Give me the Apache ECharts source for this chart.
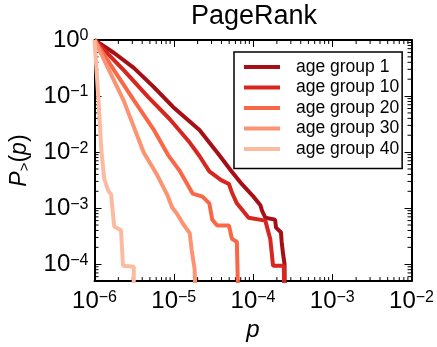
<!DOCTYPE html>
<html>
<head>
<meta charset="utf-8">
<script src="https://cdn.jsdelivr.net/npm/echarts@6/dist/echarts.min.js"></script>
<style>
  html, body { margin: 0; padding: 0; background: #fff; }
  #chart { width: 437px; height: 347px; }
</style>
</head>
<body>
<div id="chart"></div>
<script>
// CCDF values, [p, P>(p)]
const group1 = [[1e-6,1],[1.77e-6,0.586],[3.13e-6,0.318],[5.53e-6,0.147],[9.79e-6,0.064],[2.11e-5,0.0247],[3.74e-5,0.00885],[5.26e-5,0.0047],[7.2e-5,0.0027],[9.86e-5,0.00168],[1.24e-4,0.00113],[1.3e-4,9e-4],[1.43e-4,6.76e-4],[1.9e-4,6.25e-4],[1.95e-4,4.5e-4],[2.25e-4,3.73e-4],[2.3e-4,2.5e-4],[2.39e-4,1.56e-4],[2.5e-4,1e-4],[2.53e-4,1e-5]]
const group10 = [[1e-6,1],[2.35e-6,0.288],[4.8e-6,0.095],[8.99e-6,0.0382],[1.59e-5,0.0148],[2.11e-5,0.00851],[2.81e-5,0.00452],[3.96e-5,0.00316],[4.97e-5,0.0027],[5.42e-5,0.0019],[6.25e-5,0.00122],[8.8e-5,6.76e-4],[1.43e-4,6.0e-4],[1.65e-4,2.83e-4],[1.79e-4,9.35e-5],[2.45e-4,9.35e-5],[2.5e-4,1e-5]]
const group20 = [[1e-6,1],[1.77e-6,0.288],[3.13e-6,0.0844],[5.53e-6,0.0258],[8.49e-6,0.00885],[1.2e-5,0.00452],[1.73e-5,0.00182],[2.3e-5,0.00161],[2.81e-5,0.00122],[3.06e-5,6.25e-4],[3.53e-5,4.92e-4],[4.97e-5,4.92e-4],[5.42e-5,2.83e-4],[6.25e-5,2.51e-4],[6.61e-5,1e-5]]
const group30 = [[1e-6,1],[1.53e-6,0.288],[2.35e-6,0.0811],[4.16e-6,0.00996],[6.2e-6,0.00385],[8.25e-6,0.00175],[9.51e-6,0.00104],[1.1e-5,7.92e-4],[1.3e-5,5.33e-4],[1.59e-5,3.59e-4],[1.68e-5,1.83e-4],[1.83e-5,8.3e-5],[1.94e-5,1e-5]]
const group40 = [[1e-6,1],[1.12e-6,0.0913],[1.22e-6,0.0108],[1.33e-6,0.00329],[1.49e-6,0.00205],[1.62e-6,0.00175],[1.77e-6,4.73e-4],[2.16e-6,4.04e-4],[2.29e-6,9.35e-5],[3.13e-6,9.0e-5],[3.13e-6,1e-5]]

const seriesNames = ['age group 1','age group 10','age group 20','age group 30','age group 40']
const seriesColors = ['#a50f15','#d7261f','#fa6747','#fc9373','#fcbba1']
const seriesData = [group1, group10, group20, group30, group40]

const xMin = 1e-6, xMax = 1e-2
const yMin = 5e-5, yMax = 1

// minor ticks 2..9 x 10^k (matplotlib style)
let xMinor = [], yMinor = []
for (let k = -6; k < -2; k++) for (let m = 2; m < 10; m++) xMinor.push(m * Math.pow(10, k))
for (let k = -5; k < 0; k++) for (let m = 2; m < 10; m++) {
  let v = m * Math.pow(10, k)
  if (v > yMin) yMinor.push(v)
}

const FONT = 'Liberation Sans'

function powLabel(v) {
  let l = Math.log10(v), e = Math.round(l)
  if (Math.abs(l - e) > 0.01) return ''
  return '{b|10}{e|' + (e < 0 ? '\u2212' : '') + Math.abs(e) + '}'
}
const labelRich = {
  b: { fontSize: 24, fontFamily: FONT, color: '#000', lineHeight: 24 },
  e: { fontSize: 16, fontFamily: FONT, color: '#000', verticalAlign: 'top', lineHeight: 14 }
}

function logAxis(min, max, pos, showLabel, extra) {
  return Object.assign({
    type: 'log',
    logBase: 10,
    position: pos,
    min: min,
    max: max,
    splitLine: { show: false },
    axisLine: { show: true, lineStyle: { color: '#000', width: 2 } },
    axisTick: { show: true, inside: true, length: 7, lineStyle: { color: '#000', width: 1 } },
    minorTick: { show: false },
    axisLabel: {
      show: showLabel,
      interval: 0,
      showMinLabel: true,
      showMaxLabel: true,
      formatter: powLabel,
      rich: labelRich
    }
  }, extra || {})
}

let series = seriesData.map((d, i) => ({
  name: seriesNames[i],
  type: 'line',
  data: d,
  showSymbol: false,
  symbol: 'none',
  clip: true,
  lineStyle: { color: seriesColors[i], width: 4 },
  itemStyle: { color: seriesColors[i] },
  emphasis: { disabled: true },
  animation: false
}))

// minor tick marks on all four sides, placed through the axes
series.push({
  type: 'custom',
  data: xMinor.map(v => [v, 1]),
  silent: true,
  animation: false,
  renderItem: function (params, api) {
    let b = api.coord([api.value(0), yMin])
    let t = api.coord([api.value(0), yMax])
    return { type: 'group', children: [
      { type: 'line', shape: { x1: b[0], y1: b[1], x2: b[0], y2: b[1] - 4 }, style: { stroke: '#000', lineWidth: 1 } },
      { type: 'line', shape: { x1: t[0], y1: t[1], x2: t[0], y2: t[1] + 4 }, style: { stroke: '#000', lineWidth: 1 } }
    ]}
  }
})
series.push({
  type: 'custom',
  data: yMinor.map(v => [xMin, v]),
  silent: true,
  animation: false,
  renderItem: function (params, api) {
    let l = api.coord([xMin, api.value(1)])
    let r = api.coord([xMax, api.value(1)])
    return { type: 'group', children: [
      { type: 'line', shape: { x1: l[0], y1: l[1], x2: l[0] + 4, y2: l[1] }, style: { stroke: '#000', lineWidth: 1 } },
      { type: 'line', shape: { x1: r[0], y1: r[1], x2: r[0] - 4, y2: r[1] }, style: { stroke: '#000', lineWidth: 1 } }
    ]}
  }
})

const chart = echarts.init(document.getElementById('chart'), null, { renderer: 'canvas' })
chart.setOption({
  animation: false,
  backgroundColor: '#fff',
  title: {
    text: 'PageRank',
    left: 191,
    top: 3,
    padding: 0,
    textStyle: { fontFamily: FONT, fontSize: 27, fontWeight: 'normal', color: '#000' }
  },
  grid: { left: 93, right: 21, top: 40, bottom: 57 },
  legend: {
    data: seriesNames,
    orient: 'vertical',
    left: 234,
    top: 52,
    icon: 'rect',
    itemWidth: 36,
    itemHeight: 4,
    itemGap: 2.5,
    padding: [6, 3, 10.5, 10],
    backgroundColor: '#fff',
    borderColor: '#000',
    borderWidth: 1.5,
    borderRadius: 0,
    selectedMode: false,
    textStyle: { fontFamily: FONT, fontSize: 17.5, lineHeight: 17.5, color: '#000', padding: [0, 0, 0, 11] }
  },
  xAxis: [
    logAxis(xMin, xMax, 'bottom', true, {
      name: 'p',
      nameLocation: 'middle',
      nameGap: 33,
      nameTextStyle: { fontFamily: FONT, fontSize: 24, fontStyle: 'italic', color: '#000' },
      axisLabel: { show: true, interval: 0, showMinLabel: true, showMaxLabel: true, margin: 8, formatter: powLabel, rich: labelRich }
    }),
    logAxis(xMin, xMax, 'top', false)
  ],
  yAxis: [
    logAxis(yMin, yMax, 'left', true, {
      name: '{i|P}{s|>}{n|(}{i|p}{n|)}',
      nameLocation: 'middle',
      nameRotate: 90,
      nameGap: 62,
      nameTextStyle: {
        rich: {
          i: { fontFamily: FONT, fontSize: 23, fontStyle: 'italic', color: '#000', lineHeight: 26, verticalAlign: 'middle' },
          n: { fontFamily: FONT, fontSize: 23, color: '#000', lineHeight: 26, verticalAlign: 'middle' },
          s: { fontFamily: FONT, fontSize: 15, color: '#000', lineHeight: 14, verticalAlign: 'bottom' }
        }
      },
      axisLabel: { show: true, interval: 0, showMinLabel: true, showMaxLabel: true, margin: 6, formatter: powLabel, rich: labelRich }
    }),
    logAxis(yMin, yMax, 'right', false)
  ],
  series: series
})
window.addEventListener('resize', () => { chart.resize() })
</script>
</body>
</html>
